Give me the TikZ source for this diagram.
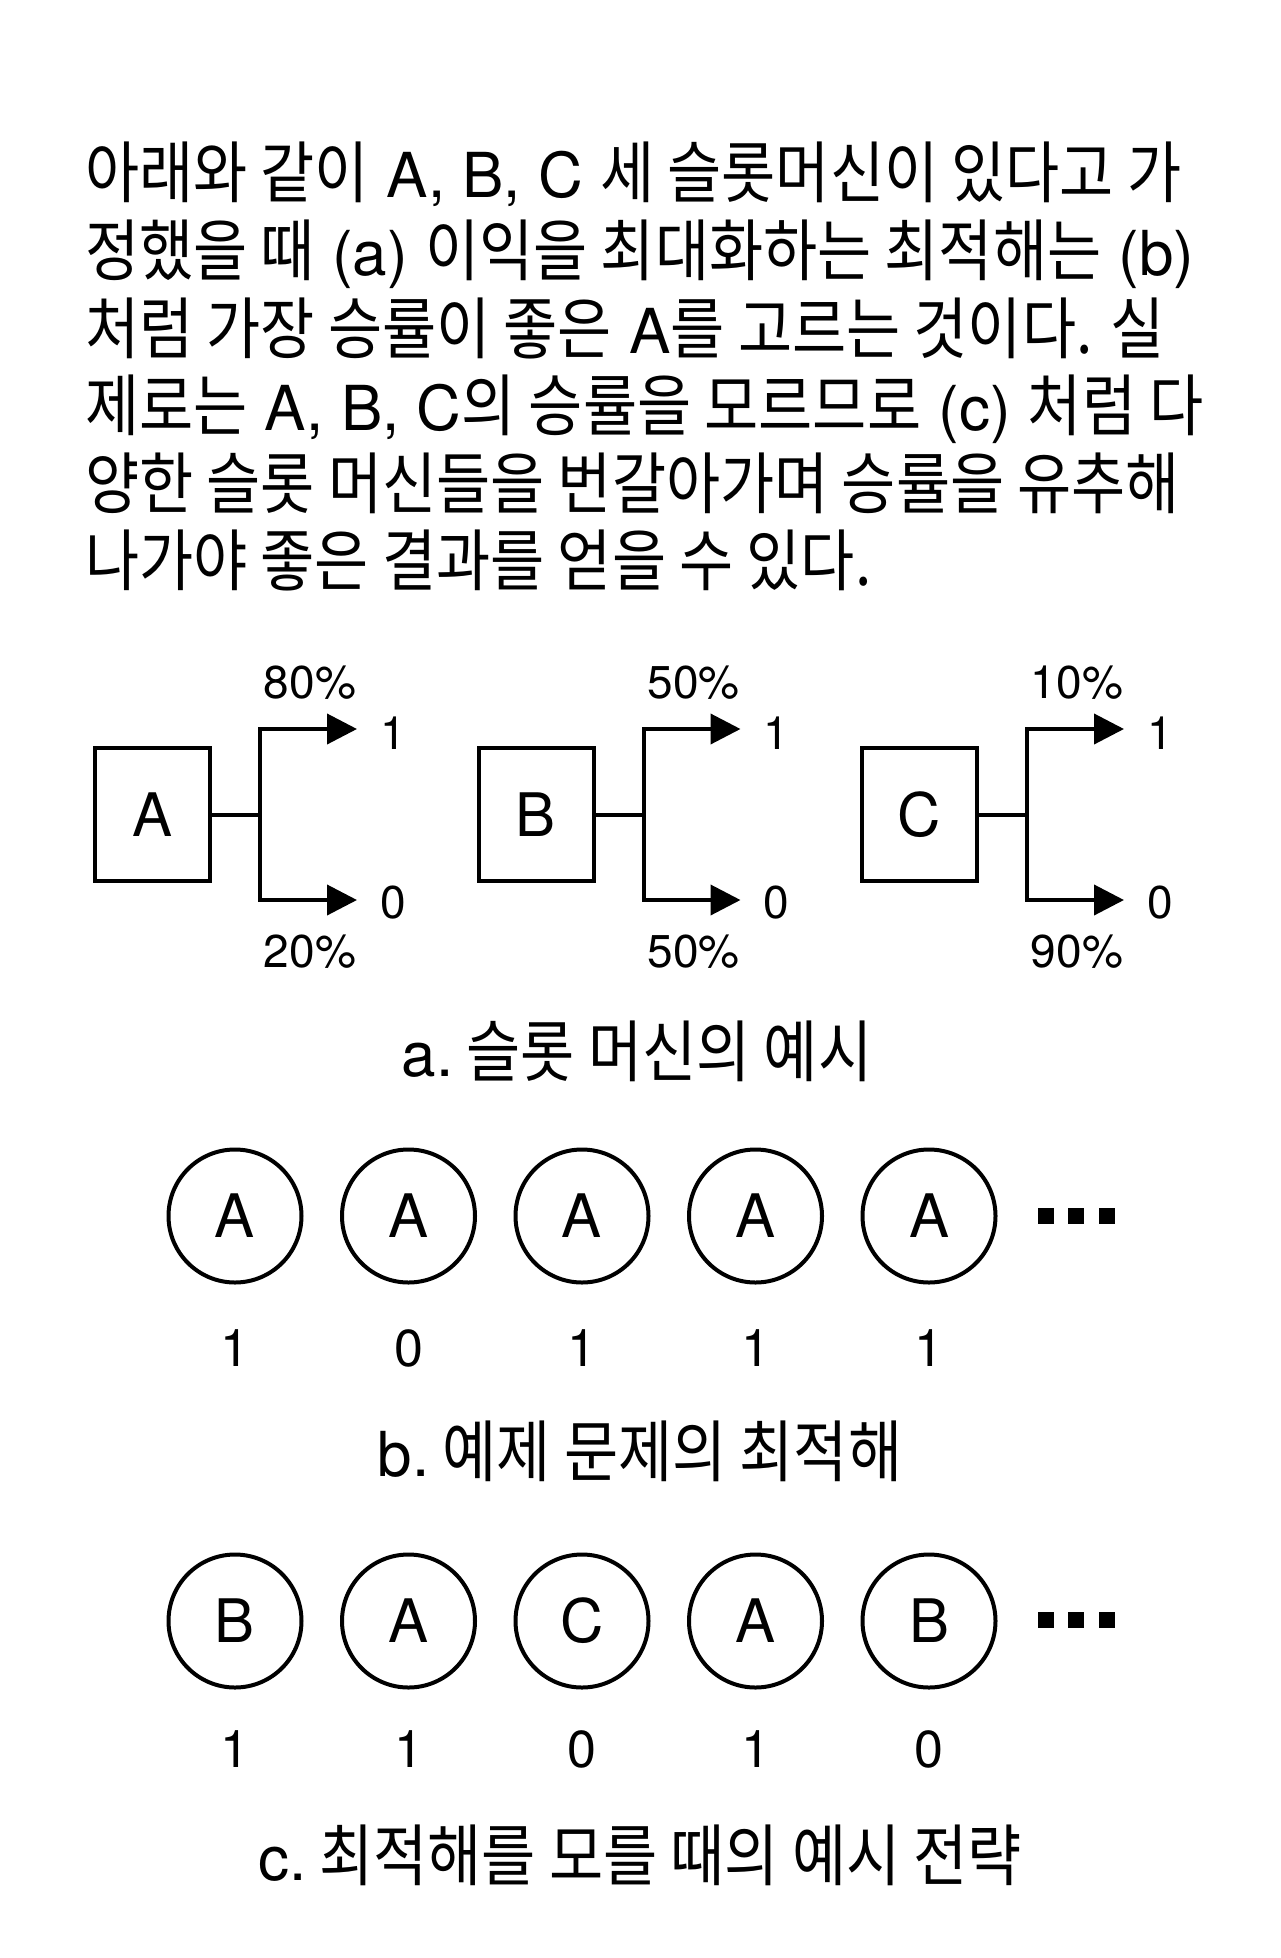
\documentclass[tikz,border=0pt]{standalone}
\usepackage{fontspec}
\setmainfont{TeX Gyre Heros}
\newfontfamily\kr[FakeStretch=0.875,Scale=1.085]{Noto Sans CJK KR}
\usetikzlibrary{arrows.meta}
\tikzset{
  para/.style={anchor=base west, inner sep=0pt, font=\fontsize{62}{74}\selectfont},
  capt/.style={anchor=base, inner sep=0pt, font=\fontsize{62}{74}\selectfont},
  machine/.style={draw, line width=4pt, minimum width=115pt, minimum height=133pt, inner sep=0pt, font=\fontsize{60}{72}\selectfont},
  pct/.style={inner sep=0pt, font=\fontsize{46}{56}\selectfont},
  outc/.style={inner sep=0pt, font=\fontsize{46}{56}\selectfont},
  wire/.style={line width=4pt},
  arr/.style={line width=4pt, -{Triangle[length=30pt,width=30pt]}},
  pick/.style={draw, circle, line width=4pt, minimum size=133pt, inner sep=0pt, font=\fontsize{60}{72}\selectfont},
  rew/.style={inner sep=0pt, font=\fontsize{52}{62}\selectfont},
  dot/.style={fill=black, minimum size=16pt, inner sep=0pt}
}
\begin{document}
\begin{tikzpicture}[x=1pt,y=-1pt]
\useasboundingbox (0,0) rectangle (1280,1958);
\fill[white] (0,0) rectangle (1280,1958);

% paragraph
\node[para] (l1) at (85,198) {{\kr 아래와 같이} A, B, C {\kr 세 슬롯머신이 있다고 가}};
\node[para] (l2) at (85,276) {{\kr 정했을 때} (a) {\kr 이익을 최대화하는 최적해는} (b)};
\node[para] (l3) at (85,353) {{\kr 처럼 가장 승률이 좋은} A{\kr 를 고르는 것이다. 실}};
\node[para] (l4) at (85,430) {{\kr 제로는} A, B, C{\kr 의 승률을 모르므로} (c) {\kr 처럼 다}};
\node[para] (l5) at (85,508) {{\kr 양한 슬롯 머신들을 번갈아가며 승률을 유추해}};
\node[para] (l6) at (85,585) {{\kr 나가야 좋은 결과를 얻을 수 있다.}};

% slot machines
\foreach \nm/\dx/\pu/\pd in {A/0/80/20, B/383.5/50/50, C/767/10/90}{
  \node[machine] (box\nm) at (152.5+\dx,814.5) {\nm};
  \coordinate (j\nm) at (260+\dx,814.5);
  \coordinate (jt\nm) at (260+\dx,729);
  \coordinate (jb\nm) at (260+\dx,900);
  \coordinate (tt\nm) at (357+\dx,729);
  \coordinate (tb\nm) at (357+\dx,900);
  \node[outc] (one\nm) at (393+\dx,733) {1};
  \node[outc] (zero\nm) at (393+\dx,903) {0};
  \node[pct] (pu\nm) at (310+\dx,683) {\pu\%};
  \node[pct] (pd\nm) at (310+\dx,952) {\pd\%};
  \draw[wire] (box\nm.east) -- (j\nm);
  \draw[wire] ([yshift=2pt]jt\nm) -- ([yshift=-2pt]jb\nm);
  \draw[arr] (jt\nm) -- (tt\nm);
  \draw[arr] (jb\nm) -- (tb\nm);
}
\node[capt] (capa) at (637,1076) {a.{\kr\ 슬롯 머신의 예시}};

% optimal sequence
\foreach \i/\x/\l/\r in {1/235/A/1, 2/408.5/A/0, 3/582/A/1, 4/755.5/A/1, 5/929/A/1}{
  \node[pick] (b\i) at (\x,1216) {\l};
  \node[rew] (br\i) at (\x,1348) {\r};
}
\node[dot] (bd1) at (1045.5,1216) {};
\node[dot] (bd2) at (1076,1216) {};
\node[dot] (bd3) at (1107,1216) {};
\node[capt] (capb) at (640,1476) {b.{\kr\ 예제 문제의 최적해}};

% exploring sequence
\foreach \i/\x/\l/\r in {1/235/B/1, 2/408.5/A/1, 3/582/C/0, 4/755.5/A/1, 5/929/B/0}{
  \node[pick] (c\i) at (\x,1621) {\l};
  \node[rew] (cr\i) at (\x,1749) {\r};
}
\node[dot] (cd1) at (1045.5,1620) {};
\node[dot] (cd2) at (1076,1620) {};
\node[dot] (cd3) at (1107,1620) {};
\node[capt] (capc) at (640,1880) {c.{\kr\ 최적해를 모를 때의 예시 전략}};
\end{tikzpicture}
\end{document}
